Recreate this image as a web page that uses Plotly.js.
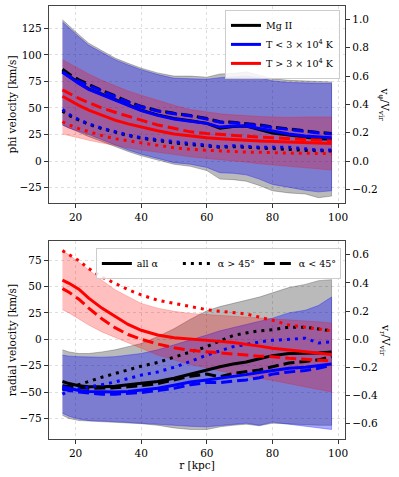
<!DOCTYPE html>
<html>
<head>
<meta charset="utf-8">
<script src="https://cdn.plot.ly/plotly-3.0.1.min.js"></script>
<style>
  html, body { margin: 0; padding: 0; background: #fff; }
  #chart { width: 399px; height: 477px; }
</style>
</head>
<body>
<div id="chart"></div>
<script>
// radius bins [kpc]
const r = [16, 18, 21, 24, 28, 32, 36, 40, 45, 50, 55, 60, 64, 68, 72, 76, 80, 85, 90, 94, 98];
const vVir = 133.4;

// --- phi velocity [km/s] ---
const phiMgAll   = [85, 80, 73.5, 68, 63, 58, 52.5, 48, 43.5, 40, 38, 35.5, 31, 32.5, 33, 29.5, 26.5, 24.5, 22.5, 21, 20.5];
const phiMgHigh  = [47, 43, 38.5, 34.5, 30.5, 27, 24, 21.5, 19, 17, 15.5, 14, 13, 13.5, 13, 12, 11.5, 11, 10, 9.5, 9.5];
const phiMgLow   = [86.5, 82, 76.5, 72, 66.5, 61.5, 56, 51.5, 47.5, 45, 43, 40, 37, 36.5, 35.5, 34, 32, 30, 28.5, 27, 26];
const phiMgUp    = [133, 127, 119, 111, 104, 97, 92, 87.5, 83, 80, 80, 79, 82, 82.5, 84, 81, 77.5, 76, 75.5, 75, 74.5];
const phiMgDn    = [34, 31, 27, 23, 18.5, 14, 9, 5, 1, -3, -5, -9, -17, -17.5, -19, -23, -28, -30, -31, -34.5, -33];

const phiColdAll  = [83.5, 79, 73, 67.5, 62.5, 57.5, 52, 47.5, 43, 39.5, 37.5, 35.5, 32, 33, 33, 30.5, 28, 25.5, 23.5, 22.5, 22];
const phiColdHigh = [48.5, 44, 39, 35, 31, 27.5, 24.5, 22, 20, 18, 16.5, 15, 13.5, 14.5, 13.5, 13, 13, 13, 11.5, 10.5, 10.5];
const phiColdLow  = [84, 80, 75, 71, 66, 61, 55.5, 51, 47, 44.5, 42.5, 39.5, 36.5, 36, 35, 33.5, 31.5, 29.5, 28, 26.5, 25.5];
const phiColdUp   = [131, 125, 117, 109, 102, 95.5, 90.5, 86, 81.5, 78, 77.5, 77, 78.5, 79, 80, 78.5, 75.5, 74, 73.5, 73.5, 73];
const phiColdDn   = [34, 31, 28, 25, 20, 15.5, 10.5, 6.5, 2.5, -1.5, -3, -6, -11, -11.5, -13, -17, -22, -25, -27.5, -29, -28];

const phiHotAll  = [61, 57.5, 52.5, 48, 43, 38.5, 35, 32, 28.5, 25.5, 23.5, 22, 21, 20, 19.5, 19, 18.5, 18, 17.5, 17, 16.5];
const phiHotHigh = [37, 34, 30.5, 27.5, 24, 21, 19, 17, 14.5, 12.5, 11, 10, 9.5, 9, 8.5, 8.5, 8, 7.5, 7.5, 7, 7];
const phiHotLow  = [67, 63.5, 59, 55, 50, 46, 42, 38.5, 34, 30.5, 27.5, 26, 25, 24, 23, 22.5, 22, 21, 20, 19.5, 19];
const phiHotUp   = [95.5, 92, 87, 82, 76, 71, 66, 62, 57, 52.5, 48.5, 46, 44.5, 43.5, 42.5, 42, 41.5, 41, 41.5, 41.5, 41.5];
const phiHotDn   = [25.5, 24, 21.5, 19.5, 17, 14.5, 12.5, 10.5, 8, 6, 4, 2.5, 1, 0, -1, -2.5, -3.5, -5, -6.5, -7.5, -8.5];

// --- radial velocity [km/s] ---
const radMgAll   = [-40, -42, -44, -45, -45, -44.5, -43, -41.5, -40, -37, -33, -28.5, -26, -23.5, -21.5, -18.5, -15.5, -13.5, -13.5, -13, -12];
const radMgHigh  = [-48, -46, -42.5, -40, -36, -32.5, -29, -25.5, -22, -17, -12, -7, -1.5, 3.5, 6, 8, 9, 11.5, 11.5, 10, 8];
const radMgLow   = [-44, -45, -46, -46.5, -46.5, -46, -45, -44, -42, -38.5, -35, -33, -35.5, -32.5, -31, -29, -26, -22.5, -21, -19.5, -16.5];
const radMgUp    = [-10, -12, -13.5, -13.5, -12, -10, -7, -4, 2.5, 10, 19, 27, 31, 34, 37, 40, 44, 49, 52, 55.5, 56.5];
const radMgDn    = [-72, -75, -77, -78, -78.5, -79, -79.5, -80, -81.5, -84, -85.5, -85.5, -83, -81.5, -80.5, -82, -79.5, -80, -81, -81.5, -81.5];

const radColdAll  = [-45, -46.5, -48.5, -49.5, -50, -50, -49.5, -48, -46.5, -43.5, -40.5, -38.5, -37, -35.5, -33.5, -31.5, -29.5, -27.5, -26.5, -25, -23.5];
const radColdHigh = [-52, -49, -47, -45, -43, -40.5, -37, -34, -31, -26.5, -21, -15, -11, -7, -5, -2.5, -1, 0, 1, -3.5, -2.5];
const radColdLow  = [-47, -48.5, -50, -51, -52, -52, -51.5, -50.5, -48.5, -46.5, -43, -41, -41, -40, -38.5, -36.5, -33, -31, -29.5, -27.5, -24.5];
const radColdUp   = [-15, -16, -16.5, -17, -17, -16.5, -15, -13.5, -10, -5.5, -1, 4, 8, 11, 14, 16.5, 20, 25, 27.5, 32, 40];
const radColdDn   = [-70, -73, -75.5, -77, -77.5, -78, -78.5, -79, -80, -81.5, -82.5, -83, -82, -80.5, -79.5, -81.5, -78.5, -80.5, -83, -84, -85.5];

const radHotAll  = [56, 53, 47.5, 39, 29.5, 21.5, 14, 8.5, 4, 1.5, 0, -1, -2, -3, -4.5, -6.5, -8.5, -10, -11.5, -13, -14.5];
const radHotHigh = [84, 80, 74.5, 67, 59, 53, 47, 42, 37, 34, 31, 28, 26.5, 25.5, 24, 21, 18, 13.5, 11.5, 10, 8];
const radHotLow  = [48, 44.5, 38, 29.5, 19.5, 11, 4.5, 0, -4.5, -8, -10.5, -12, -13, -14, -15, -16, -16.5, -18, -19, -20, -20.5];
const radHotUp   = [84, 80, 73, 65.5, 56, 47, 40.5, 34, 29.5, 26.5, 24.5, 23.5, 23, 22, 21.5, 20.5, 19.5, 18.5, 17.5, 16.5, 15.5];
const radHotDn   = [28, 25, 19.5, 13.5, 7, 2, -3.5, -8.5, -15, -19.5, -24, -27, -30, -32.5, -35, -37, -39, -42, -45, -47.5, -50];

const groupNames = ['Mg II', 'T < 3 × 10<sup>4</sup> K', 'T > 3 × 10<sup>4</sup> K'];
const alphaNames = ['all α', 'α > 45°', 'α < 45°'];

const lineColors = ['#000000', '#0000ff', '#ff0000'];
const bandColors = ['rgba(0,0,0,0.27)', 'rgba(0,0,255,0.33)', 'rgba(255,0,0,0.25)'];
const bandEdges = ['rgba(0,0,0,0.35)', 'rgba(0,0,255,0.45)', 'rgba(255,0,0,0.3)'];
const dashes = ['solid', '3px,5px', '11px,5px'];

const FONT = 'DejaVu Serif';

function band(up, dn, i, xa, ya) {
  return {
    x: r.concat(r.slice().reverse()),
    y: up.concat(dn.slice().reverse()),
    xaxis: xa, yaxis: ya,
    type: 'scatter', mode: 'lines', fill: 'toself',
    fillcolor: bandColors[i],
    line: { color: bandEdges[i], width: 0.7 },
    hoverinfo: 'skip', showlegend: false
  };
}

function line(y, i, k, xa, ya, leg) {
  const t = {
    x: r, y: y, xaxis: xa, yaxis: ya,
    type: 'scatter', mode: 'lines',
    line: { color: lineColors[i], width: 3, dash: dashes[k] },
    showlegend: false
  };
  if (leg) {
    t.showlegend = true;
    t.name = leg.name;
    t.legend = leg.legend;
  }
  return t;
}

const phiSets = [
  [phiMgAll, phiMgHigh, phiMgLow, phiMgUp, phiMgDn],
  [phiColdAll, phiColdHigh, phiColdLow, phiColdUp, phiColdDn],
  [phiHotAll, phiHotHigh, phiHotLow, phiHotUp, phiHotDn]
];
const radSets = [
  [radMgAll, radMgHigh, radMgLow, radMgUp, radMgDn],
  [radColdAll, radColdHigh, radColdLow, radColdUp, radColdDn],
  [radHotAll, radHotHigh, radHotLow, radHotUp, radHotDn]
];

const traces = [];
// bands first
phiSets.forEach((s, i) => traces.push(band(s[3], s[4], i, 'x', 'y')));
radSets.forEach((s, i) => traces.push(band(s[3], s[4], i, 'x2', 'y3')));
// then lines
phiSets.forEach((s, i) => {
  traces.push(line(s[0], i, 0, 'x', 'y', { name: groupNames[i], legend: 'legend' }));
  traces.push(line(s[1], i, 1, 'x', 'y'));
  traces.push(line(s[2], i, 2, 'x', 'y'));
});
radSets.forEach((s, i) => {
  traces.push(line(s[0], i, 0, 'x2', 'y3', i === 0 ? { name: alphaNames[0], legend: 'legend2' } : null));
  traces.push(line(s[1], i, 1, 'x2', 'y3', i === 0 ? { name: alphaNames[1], legend: 'legend2' } : null));
  traces.push(line(s[2], i, 2, 'x2', 'y3', i === 0 ? { name: alphaNames[2], legend: 'legend2' } : null));
});
// empty traces so the right-hand (v / V_vir) axes get drawn
traces.push({ x: [null], y: [null], xaxis: 'x', yaxis: 'y2', type: 'scatter', mode: 'lines', showlegend: false, hoverinfo: 'skip' });
traces.push({ x: [null], y: [null], xaxis: 'x2', yaxis: 'y4', type: 'scatter', mode: 'lines', showlegend: false, hoverinfo: 'skip' });

const tickFont = { family: FONT, size: 10.5, color: '#000' };
const xBase = {
  range: [11.9, 102.1], dtick: 20, tick0: 0,
  ticks: 'outside', ticklen: 4, tickcolor: '#333',
  showline: true, mirror: true, linecolor: '#444', linewidth: 1.2,
  showgrid: true, gridcolor: '#dedede', griddash: 'dot', gridwidth: 1,
  zeroline: false, tickfont: tickFont
};
const yBase = {
  ticks: 'outside', ticklen: 4, tickcolor: '#333',
  showline: true, linecolor: '#444', linewidth: 1.2,
  showgrid: true, gridcolor: '#dedede', griddash: 'dot', gridwidth: 1,
  zeroline: false, tickfont: tickFont
};
const phiRange = [-39.5, 146];
const radRange = [-94.5, 93];

const layout = {
  width: 399, height: 477,
  margin: { l: 49, r: 54, t: 6, b: 38 },
  paper_bgcolor: '#fff', plot_bgcolor: '#fff',
  font: { family: FONT, size: 10.5, color: '#000' },
  xaxis: Object.assign({}, xBase, { anchor: 'y', domain: [0, 1] }),
  xaxis2: Object.assign({}, xBase, { anchor: 'y3', domain: [0, 1],
    title: { text: 'r [kpc]', font: { family: FONT, size: 10.5 }, standoff: 3 } }),
  yaxis: Object.assign({}, yBase, { domain: [0.545, 1], anchor: 'x', range: phiRange, dtick: 25,
    title: { text: 'phi velocity [km/s]', font: { family: FONT, size: 10.5 }, standoff: 0 } }),
  yaxis2: Object.assign({}, yBase, { overlaying: 'y', side: 'right', anchor: 'x',
    range: phiRange.map(v => v / vVir), dtick: 0.2, tick0: 0, tickformat: '.1f', showgrid: false }),
  yaxis3: Object.assign({}, yBase, { domain: [0, 0.457], anchor: 'x2', range: radRange, dtick: 25,
    title: { text: 'radial velocity [km/s]', font: { family: FONT, size: 10.5 }, standoff: 0 } }),
  yaxis4: Object.assign({}, yBase, { overlaying: 'y3', side: 'right', anchor: 'x2',
    range: radRange.map(v => v / vVir), dtick: 0.2, tick0: 0, tickformat: '.1f', showgrid: false }),
  annotations: [
    { text: 'v<sub>φ</sub>/V<sub>vir</sub>', xref: 'paper', yref: 'paper', x: 1.1047, y: 0.7725,
      xanchor: 'left', yanchor: 'middle', textangle: 90, showarrow: false,
      font: { family: FONT, size: 10.5 } },
    { text: 'v<sub>r</sub>/V<sub>vir</sub>', xref: 'paper', yref: 'paper', x: 1.1047, y: 0.2286,
      xanchor: 'left', yanchor: 'middle', textangle: 90, showarrow: false,
      font: { family: FONT, size: 10.5 } }
  ],
  legend: {
    x: 0.983, y: 0.991, xanchor: 'right', yanchor: 'top',
    bgcolor: 'rgba(255,255,255,0.85)', bordercolor: '#cccccc', borderwidth: 1,
    font: { family: FONT, size: 9.5 }, tracegroupgap: 0, itemwidth: 30
  },
  legend2: {
    x: 0.986, y: 0.441, xanchor: 'right', yanchor: 'top', orientation: 'h',
    entrywidth: 36, entrywidthmode: 'pixels', itemwidth: 30,
    bgcolor: 'rgba(255,255,255,0.85)', bordercolor: '#cccccc', borderwidth: 1,
    font: { family: FONT, size: 9.5 }
  },
  showlegend: true
};

Plotly.newPlot('chart', traces, layout, { displayModeBar: false, staticPlot: true });
</script>
</body>
</html>
